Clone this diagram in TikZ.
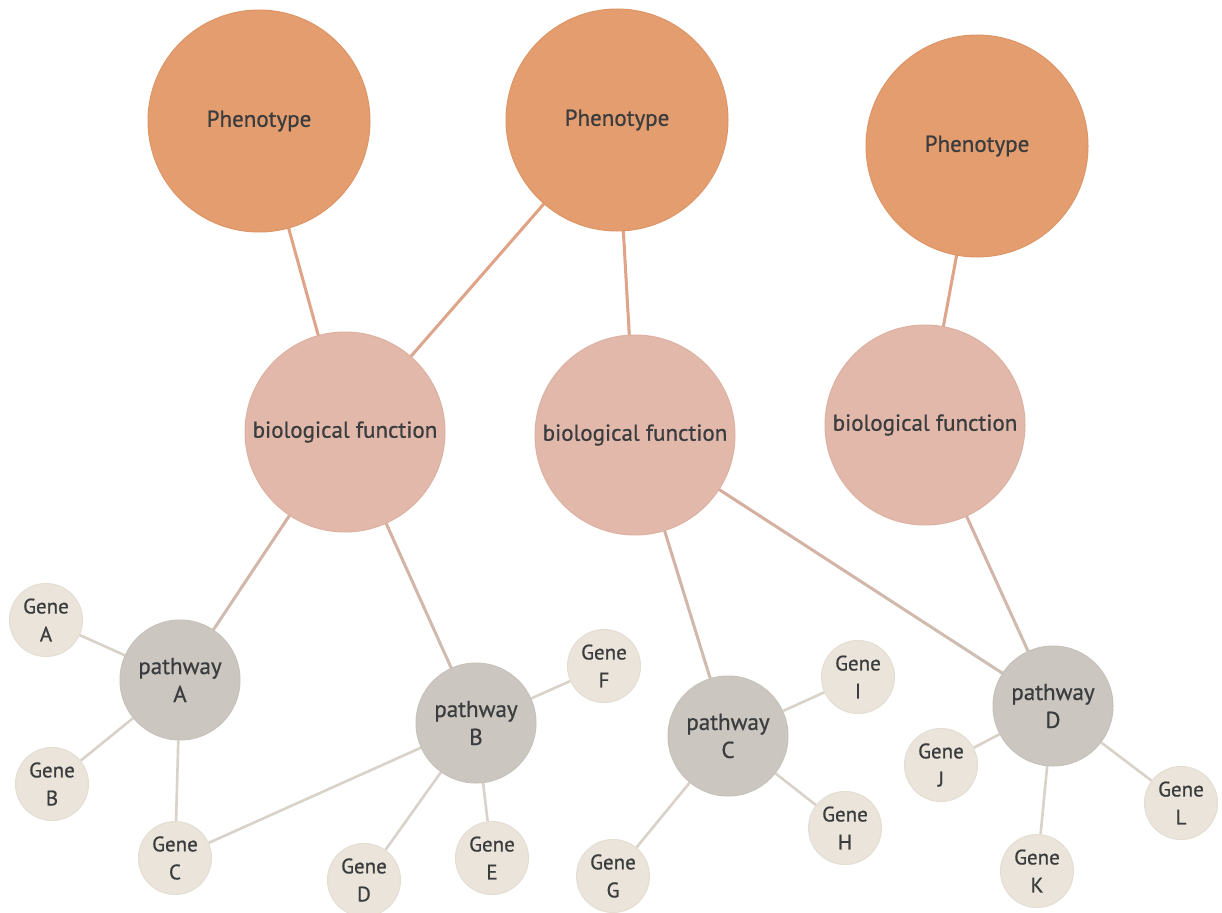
\documentclass[tikz,border=0pt]{standalone}
\usepackage{fontspec}
\setmainfont{PT Sans}[FakeBold=0.7]
\usetikzlibrary{calc,backgrounds}
\definecolor{phenfill}{HTML}{E39D6E}
\definecolor{phenline}{HTML}{DE9566}
\definecolor{biofill}{HTML}{E1B8AA}
\definecolor{bioline}{HTML}{DDB1A2}
\definecolor{pathfill}{HTML}{CBC6C0}
\definecolor{pathline}{HTML}{C6C1BA}
\definecolor{genefill}{HTML}{EAE4DA}
\definecolor{geneline}{HTML}{E4DDD2}
\definecolor{txt}{HTML}{3A3C3E}
\definecolor{eorange}{HTML}{E5A07A}
\definecolor{epink}{HTML}{D9A896}
\definecolor{egray}{HTML}{CCC3BA}
\definecolor{elight}{HTML}{D8D2C9}
\newcommand\gradedge[4]{%
  \foreach \i in {0,...,39}{%
    \pgfmathsetmacro\pp{100-2.5*\i}%
    \pgfmathsetmacro\ta{\i/40}%
    \pgfmathsetmacro\tb{(\i+1)/40}%
    \draw[edgeline, color={#3!\pp!#4}] ($(#1)!\ta!(#2)$) -- ($(#1)!\tb!(#2)$);
  }}
\tikzset{
  every node/.style={text=txt, font=\fontsize{23}{28}\selectfont, align=center, inner sep=0pt},
  phen/.style={circle, fill=phenfill, draw=phenline, line width=1pt, minimum size=222pt},
  bio/.style={circle, fill=biofill, draw=bioline, line width=1pt, minimum size=200pt},
  pathw/.style={circle, fill=pathfill, draw=pathline, line width=1pt, minimum size=120pt},
  gene/.style={circle, fill=genefill, draw=geneline, line width=1pt, minimum size=73pt, font=\fontsize{21}{28}\selectfont},
  edgeline/.style={line width=3pt, line cap=round},
  geneedge/.style={line width=2.6pt, draw=elight},
}
\begin{document}
\begin{tikzpicture}[x=1pt,y=-1pt]
\useasboundingbox (0,0) rectangle (1222,912);
\node[phen] (P1) at (259,121) {Phenotype};
\node[phen] (P2) at (617,120) {Phenotype};
\node[phen] (P3) at (977,146) {Phenotype};
\node[bio] (B1) at (345,432) {biological function};
\node[bio] (B2) at (635,435) {biological function};
\node[bio] (B3) at (925,425) {biological function};
\node[pathw] (PA) at (180,680) {pathway\\A};
\node[pathw] (PB) at (476,723) {pathway\\B};
\node[pathw] (PC) at (728,736) {pathway\\C};
\node[pathw] (PD) at (1053,706) {pathway\\D};
\node[gene] (GA) at (46,620) {Gene\\A};
\node[gene] (GB) at (52,784) {Gene\\B};
\node[gene] (GC) at (175,858) {Gene\\C};
\node[gene] (GD) at (364,880) {Gene\\D};
\node[gene] (GE) at (492,858) {Gene\\E};
\node[gene] (GF) at (604,666) {Gene\\F};
\node[gene] (GG) at (613,876) {Gene\\G};
\node[gene] (GH) at (845,828) {Gene\\H};
\node[gene] (GI) at (858,677) {Gene\\I};
\node[gene] (GJ) at (941,765) {Gene\\J};
\node[gene] (GK) at (1037,871) {Gene\\K};
\node[gene] (GL) at (1181,803) {Gene\\L};
\begin{pgfonlayer}{background}
\fill[white] (0,0) rectangle (1222,912);
\gradedge{P1}{B1}{eorange}{epink}
\gradedge{P2}{B1}{eorange}{epink}
\gradedge{P2}{B2}{eorange}{epink}
\gradedge{P3}{B3}{eorange}{epink}
\gradedge{B1}{PA}{epink}{egray}
\gradedge{B1}{PB}{epink}{egray}
\gradedge{B2}{PC}{epink}{egray}
\gradedge{B2}{PD}{epink}{egray}
\gradedge{B3}{PD}{epink}{egray}
\draw[geneedge] (PA) -- (GA);
\draw[geneedge] (PA) -- (GB);
\draw[geneedge] (PA) -- (GC);
\draw[geneedge] (PB) -- (GC);
\draw[geneedge] (PB) -- (GD);
\draw[geneedge] (PB) -- (GE);
\draw[geneedge] (PB) -- (GF);
\draw[geneedge] (PC) -- (GG);
\draw[geneedge] (PC) -- (GH);
\draw[geneedge] (PC) -- (GI);
\draw[geneedge] (PD) -- (GJ);
\draw[geneedge] (PD) -- (GK);
\draw[geneedge] (PD) -- (GL);
\end{pgfonlayer}
\end{tikzpicture}
\end{document}
